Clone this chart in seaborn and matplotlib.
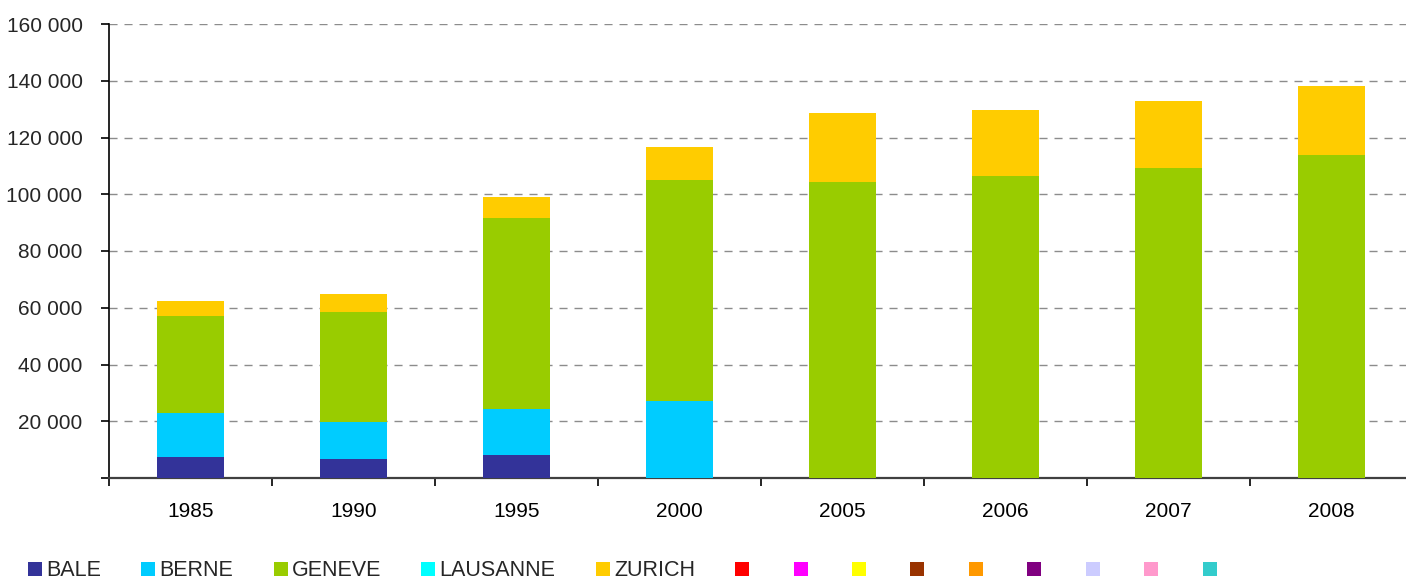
import seaborn as sns
import matplotlib.pyplot as plt
import pandas as pd
from matplotlib.patches import Patch
from matplotlib.ticker import FuncFormatter

years = ['1985', '1990', '1995', '2000', '2005', '2006', '2007', '2008']
bale = [7500, 6700, 8200, 0, 0, 0, 0, 0]
berne = [15400, 13100, 16100, 27100, 0, 0, 0, 0]
geneve = [34300, 38800, 67300, 77900, 104300, 106400, 109300, 113800]
lausanne = [0, 0, 0, 0, 0, 0, 0, 0]
zurich = [5200, 6200, 7400, 11700, 24300, 23300, 23600, 24300]

series_names = ['BALE', 'BERNE', 'GENEVE', 'LAUSANNE', 'ZURICH']
series_colors = ['#333399', '#00CCFF', '#99CC00', '#00FFFF', '#FFCC00']
# unused excel series, they only show up in the legend
extra_colors = ['#FF0000', '#FF00FF', '#FFFF00', '#993300', '#FF9900',
                '#800080', '#CCCCFF', '#FF99CC', '#33CCCC']

df = pd.DataFrame({'year': years, 'BALE': bale, 'BERNE': berne, 'GENEVE': geneve,
                   'LAUSANNE': lausanne, 'ZURICH': zurich})
cum = df[series_names].cumsum(axis=1)
cum['year'] = df['year']

sns.set_style('white')
plt.rcParams['font.family'] = ['Liberation Sans', 'DejaVu Sans']

fig = plt.figure(figsize=(14.06, 5.79), dpi=100)
ax = fig.add_axes([109 / 1406, 1 - 478 / 579, (1413 - 109) / 1406, (478 - 24) / 579])

# draw the cumulative totals from the top down so the stack shows
for name, col in reversed(list(zip(series_names, series_colors))):
    sns.barplot(data=cum, x='year', y=name, color=col, order=years, ax=ax,
                width=0.41, saturation=1, errorbar=None, linewidth=0, zorder=3)

ax.set_xlim(-0.5, 7.5)
ax.set_ylim(0, 160000)
ax.set_yticks(range(0, 160001, 20000))
ax.yaxis.set_major_formatter(FuncFormatter(
    lambda v, p: '' if v == 0 else f'{int(v):,}'.replace(',', ' ')))
ax.set_xlabel('')
ax.set_ylabel('')

ax.set_xticks(range(len(years)))
ax.set_xticklabels(years)
ax.set_xticks([i - 0.5 for i in range(len(years) + 1)], minor=True)
ax.tick_params(axis='x', which='major', length=0, pad=17, labelsize=15, colors='black')
ax.tick_params(axis='x', which='minor', length=6, width=1.2, color='black', direction='out', bottom=True)
ax.tick_params(axis='y', which='major', length=6, width=1.2, color='black', direction='out', left=True,
               labelsize=15, pad=13)

ax.yaxis.grid(True, color='#8c8c8c', linewidth=1.0, linestyle=(0, (5.8, 5.0)), zorder=0)
ax.xaxis.grid(False)
ax.set_axisbelow(True)

for s in ['top', 'right']:
    ax.spines[s].set_visible(False)
ax.spines['left'].set_color('black')
ax.spines['left'].set_linewidth(1.2)
ax.spines['bottom'].set_color('#404040')
ax.spines['bottom'].set_linewidth(1.6)

handles = [Patch(facecolor=c, edgecolor='none') for c in series_colors + extra_colors]
labels = series_names + [''] * len(extra_colors)
fig.legend(handles, labels, loc='center left', bbox_to_anchor=(28 / 1406, 1 - 571 / 579),
           ncol=len(handles), frameon=False, fontsize=15.5, handlelength=0.65, handleheight=0.65,
           handletextpad=0.2, columnspacing=1.865, borderpad=0, borderaxespad=0)

fig.savefig('out.png', dpi=100)
